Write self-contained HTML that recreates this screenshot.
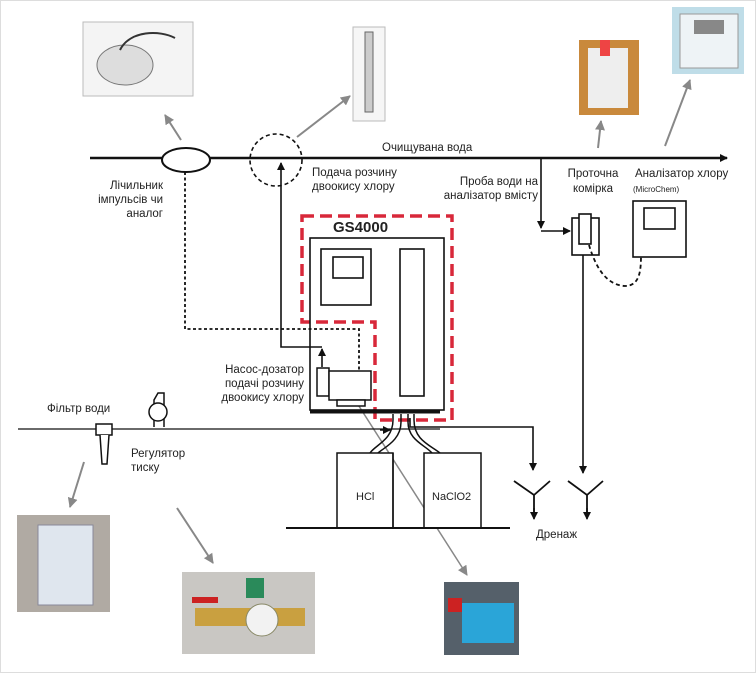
<!DOCTYPE html>
<html><head><meta charset="utf-8"><style>
html,body{margin:0;padding:0;background:#fff}
svg{display:block}
text{font-family:"Liberation Sans","DejaVu Sans",sans-serif;fill:#222}
</style></head><body>
<svg width="756" height="674" viewBox="0 0 756 674" xmlns="http://www.w3.org/2000/svg">
<defs>
<marker id="a" markerWidth="8" markerHeight="8" refX="7" refY="4" orient="auto" markerUnits="userSpaceOnUse"><path d="M0,0 L8,4 L0,8 z" fill="#111"/></marker>
<marker id="g" markerWidth="10" markerHeight="10" refX="9" refY="5" orient="auto" markerUnits="userSpaceOnUse"><path d="M0,0 L10,5 L0,10 z" fill="#888"/></marker>
</defs>
<rect x="0.5" y="0.5" width="755" height="672" fill="#fff" stroke="#ddd"/>
<!-- photos -->
<rect x="83" y="22" width="110" height="74" fill="#f4f4f4" stroke="#bbb"/>
<ellipse cx="125" cy="65" rx="28" ry="20" fill="#ddd" stroke="#777"/>
<path d="M120 50 C130 30 160 30 175 38" stroke="#333" fill="none" stroke-width="2"/>
<rect x="353" y="27" width="32" height="94" fill="#f6f6f6" stroke="#bbb"/>
<rect x="365" y="32" width="8" height="80" fill="#ccc" stroke="#666"/>
<rect x="579" y="40" width="60" height="75" fill="#c9893c"/>
<rect x="588" y="48" width="40" height="60" fill="#eee"/>
<rect x="600" y="40" width="10" height="16" fill="#e44"/>
<rect x="672" y="7" width="72" height="67" fill="#bfdde8"/>
<rect x="680" y="14" width="58" height="54" fill="#eef3f6" stroke="#999"/>
<rect x="694" y="20" width="30" height="14" fill="#888"/>
<rect x="17" y="515" width="93" height="97" fill="#b0aaa3"/>
<rect x="38" y="525" width="55" height="80" fill="#dfe6ee" stroke="#889"/>
<rect x="182" y="572" width="133" height="82" fill="#c9c7c3"/>
<rect x="195" y="608" width="110" height="18" fill="#c9a040"/>
<circle cx="262" cy="620" r="16" fill="#f2f2f2" stroke="#886"/>
<rect x="246" y="578" width="18" height="20" fill="#2a8a5a"/>
<rect x="192" y="597" width="26" height="6" fill="#c22"/>
<rect x="444" y="582" width="75" height="73" fill="#55606a"/>
<rect x="462" y="603" width="52" height="40" fill="#2aa5d8"/>
<rect x="448" y="598" width="14" height="14" fill="#c22"/>
<!-- gray arrows -->
<g stroke="#888" stroke-width="2" fill="none" marker-end="url(#g)">
<line x1="181" y1="140" x2="165" y2="115"/>
<line x1="297" y1="137" x2="350" y2="96"/>
<line x1="598" y1="148" x2="601" y2="121"/>
<line x1="665" y1="146" x2="690" y2="80"/>
<line x1="84" y1="462" x2="70" y2="507"/>
<line x1="177" y1="508" x2="213" y2="563"/>
<line x1="341" y1="378" x2="467" y2="575" stroke-width="1.5"/>
</g>
<!-- main pipe -->
<line x1="90" y1="158" x2="727" y2="158" stroke="#111" stroke-width="2.5" marker-end="url(#a)"/>
<ellipse cx="186" cy="160" rx="24" ry="12" fill="#fff" stroke="#111" stroke-width="2"/>
<circle cx="276" cy="160" r="26" fill="none" stroke="#111" stroke-width="1.6" stroke-dasharray="4,3"/>
<!-- red dashed outline -->
<path d="M302 216 H452 V420 H375 V322 H302 Z" fill="none" stroke="#d8283a" stroke-width="3.5" stroke-dasharray="12,6"/>
<!-- GS4000 -->
<text x="333" y="232" font-size="15" font-weight="bold">GS4000</text>
<rect x="310" y="238" width="134" height="172" fill="none" stroke="#111" stroke-width="1.6"/>
<rect x="321" y="249" width="50" height="56" fill="none" stroke="#111" stroke-width="1.6"/>
<rect x="333" y="257" width="30" height="21" fill="none" stroke="#111" stroke-width="1.6"/>
<rect x="400" y="249" width="24" height="147" fill="none" stroke="#111" stroke-width="1.6"/>
<line x1="310" y1="412" x2="440" y2="412" stroke="#111" stroke-width="3"/>
<!-- pump -->
<rect x="317" y="368" width="12" height="28" fill="#fff" stroke="#111" stroke-width="1.5"/>
<rect x="329" y="371" width="42" height="29" fill="#fff" stroke="#111" stroke-width="1.5"/>
<rect x="337" y="400" width="28" height="6" fill="#fff" stroke="#111" stroke-width="1.5"/>
<!-- dosing line -->
<path d="M322 367 V349" stroke="#111" stroke-width="1.6" fill="none" marker-end="url(#a)"/>
<path d="M322 347 H281 V163" stroke="#111" stroke-width="1.6" fill="none" marker-end="url(#a)"/>
<!-- dotted signal -->
<path d="M185 172 V329 H359 V370" stroke="#111" stroke-width="1.8" fill="none" stroke-dasharray="3,2.5"/>
<!-- water line -->
<line x1="18" y1="429" x2="440" y2="429" stroke="#111" stroke-width="1.2"/>
<path d="M410 418 V427 H533 V470" stroke="#111" stroke-width="1.6" fill="none" marker-end="url(#a)"/>
<!-- tubes to tanks -->
<path d="M393 414 V420 C393 440 375 445 370 453" stroke="#111" stroke-width="1.5" fill="none"/>
<path d="M401 414 V422 C401 440 385 447 378 453" stroke="#111" stroke-width="1.5" fill="none"/>
<path d="M408 414 V422 C408 440 425 445 432 453" stroke="#111" stroke-width="1.5" fill="none"/>
<path d="M414 414 V420 C414 440 430 445 440 453" stroke="#111" stroke-width="1.5" fill="none"/>
<path d="M380 430 H390" stroke="#111" stroke-width="1.5" marker-end="url(#a)"/>
<!-- tanks -->
<rect x="337" y="453" width="56" height="75" fill="#fff" stroke="#111" stroke-width="1.5"/>
<rect x="424" y="453" width="57" height="75" fill="#fff" stroke="#111" stroke-width="1.5"/>
<line x1="393" y1="453" x2="393" y2="528" stroke="#111" stroke-width="1.5"/>
<text x="356" y="500" font-size="11" fill="#777">HCl</text>
<text x="432" y="500" font-size="11" fill="#777">NaClO2</text>
<line x1="286" y1="528" x2="510" y2="528" stroke="#111" stroke-width="2"/>
<!-- filter -->
<rect x="96" y="424" width="16" height="11" fill="#fff" stroke="#111" stroke-width="1.5"/>
<path d="M100 435 L102 464 H107 L109 435" fill="#fff" stroke="#111" stroke-width="1.5"/>
<!-- regulator -->
<path d="M154 427 V400 L158 393 H164 V427" fill="#fff" stroke="#111" stroke-width="1.5"/>
<circle cx="158" cy="412" r="9" fill="#fff" stroke="#111" stroke-width="1.5"/>
<!-- sample line -->
<path d="M541 158 V228" stroke="#111" stroke-width="1.6" fill="none" marker-end="url(#a)"/>
<path d="M541 231 H570" stroke="#111" stroke-width="1.6" fill="none" marker-end="url(#a)"/>
<!-- flow cell -->
<rect x="572" y="218" width="27" height="37" fill="#fff" stroke="#111" stroke-width="1.6"/>
<rect x="579" y="214" width="12" height="30" fill="#fff" stroke="#111" stroke-width="1.6"/>
<line x1="583" y1="255" x2="583" y2="473" stroke="#111" stroke-width="1.6" marker-end="url(#a)"/>
<path d="M589 245 C595 265 605 285 625 286 C640 286 641 270 641 255" stroke="#111" stroke-width="1.8" fill="none" stroke-dasharray="4,3"/>
<!-- analyzer -->
<rect x="633" y="201" width="53" height="56" fill="#fff" stroke="#111" stroke-width="1.6"/>
<rect x="644" y="208" width="31" height="21" fill="#fff" stroke="#111" stroke-width="1.6"/>
<!-- drains -->
<g stroke="#111" stroke-width="1.8" fill="none">
<path d="M514 481 L534 495 L550 481 M534 495 V517"/>
<path d="M568 481 L587 495 L603 481 M587 495 V517"/>
</g>
<path d="M534 508 V519" stroke="#111" stroke-width="1.6" marker-end="url(#a)"/>
<path d="M587 508 V519" stroke="#111" stroke-width="1.6" marker-end="url(#a)"/>
<!-- labels -->
<g font-size="11.5">
<text x="382" y="151">Очищувана вода</text>
<text x="163" y="189" text-anchor="end">Лічильник</text>
<text x="163" y="203" text-anchor="end">імпульсів чи</text>
<text x="163" y="217" text-anchor="end">аналог</text>
<text x="312" y="176">Подача розчину</text>
<text x="312" y="190">двоокису хлору</text>
<text x="538" y="185" text-anchor="end">Проба води на</text>
<text x="538" y="199" text-anchor="end">аналізатор вмісту</text>
<text x="593" y="177" text-anchor="middle">Проточна</text>
<text x="593" y="192" text-anchor="middle">комірка</text>
<text x="635" y="177">Аналізатор хлору</text>
<text x="633" y="192" font-size="8" fill="#999">(MicroChem)</text>
<text x="304" y="373" text-anchor="end">Насос-дозатор</text>
<text x="304" y="387" text-anchor="end">подачі розчину</text>
<text x="304" y="401" text-anchor="end">двоокису хлору</text>
<text x="47" y="412">Фільтр води</text>
<text x="131" y="457">Регулятор</text>
<text x="131" y="471">тиску</text>
<text x="536" y="538">Дренаж</text>
</g>
</svg>
</body></html>
